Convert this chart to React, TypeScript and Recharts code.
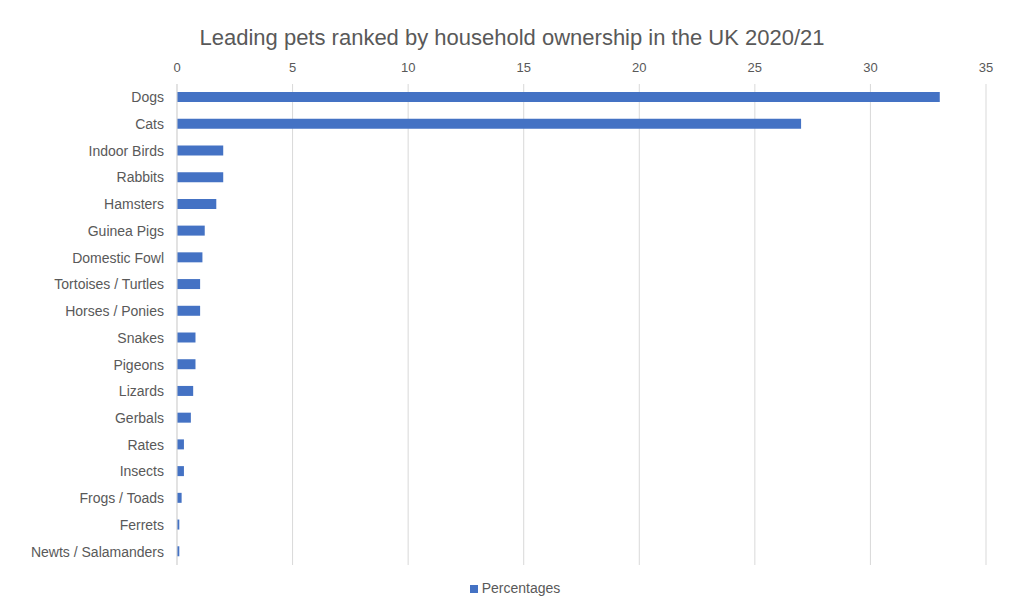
import { BarChart, Bar, XAxis, YAxis, CartesianGrid, Legend } from 'recharts';

const pets = [
  'Dogs',
  'Cats',
  'Indoor Birds',
  'Rabbits',
  'Hamsters',
  'Guinea Pigs',
  'Domestic Fowl',
  'Tortoises / Turtles',
  'Horses / Ponies',
  'Snakes',
  'Pigeons',
  'Lizards',
  'Gerbals',
  'Rates',
  'Insects',
  'Frogs / Toads',
  'Ferrets',
  'Newts / Salamanders',
];

const percentages = [33, 27, 2, 2, 1.7, 1.2, 1.1, 1, 1, 0.8, 0.8, 0.7, 0.6, 0.3, 0.3, 0.2, 0.1, 0.1];

const xTicks = [0, 5, 10, 15, 20, 25, 30, 35];

const data = pets.map((pet, i) => ({ pet, Percentages: percentages[i] }));

const TEXT = '#595959';
const GRID = '#d9d9d9';

export default function App() {
  return (
    <div
      style={{
        position: 'absolute',
        top: 0,
        left: 0,
        width: 1024,
        height: 614,
        background: '#fff',
        fontFamily: '"Liberation Sans", Arial, sans-serif',
      }}
    >
      <div
        style={{
          position: 'absolute',
          top: 25,
          left: 0,
          width: 1024,
          textAlign: 'center',
          fontSize: 22,
          color: TEXT,
        }}
      >
        Leading pets ranked by household ownership in the UK 2020/21
      </div>
      <BarChart
        width={1024}
        height={614}
        data={data}
        layout="vertical"
        margin={{ top: 54, right: 38, bottom: 33, left: 0 }}
      >
        <CartesianGrid horizontal={false} stroke={GRID} />
        <XAxis
          type="number"
          orientation="top"
          domain={[0, 35]}
          ticks={xTicks}
          height={30}
          axisLine={false}
          tickLine={false}
          tickSize={4}
          tickMargin={8}
          tick={{ fill: TEXT, fontSize: 13 }}
        />
        <YAxis
          type="category"
          dataKey="pet"
          width={177}
          interval={0}
          axisLine={{ stroke: GRID }}
          tickLine={false}
          tickSize={0}
          tickMargin={13}
          tick={{ fill: TEXT, fontSize: 14 }}
        />
        <Legend
          verticalAlign="bottom"
          iconType="square"
          iconSize={8}
          wrapperStyle={{ top: 580, left: 8, width: 1024, fontSize: 14 }}
          formatter={(value) => <span style={{ color: TEXT }}>{value}</span>}
        />
        <Bar dataKey="Percentages" fill="#4472C4" barSize={10} isAnimationActive={false} />
      </BarChart>
    </div>
  );
}
